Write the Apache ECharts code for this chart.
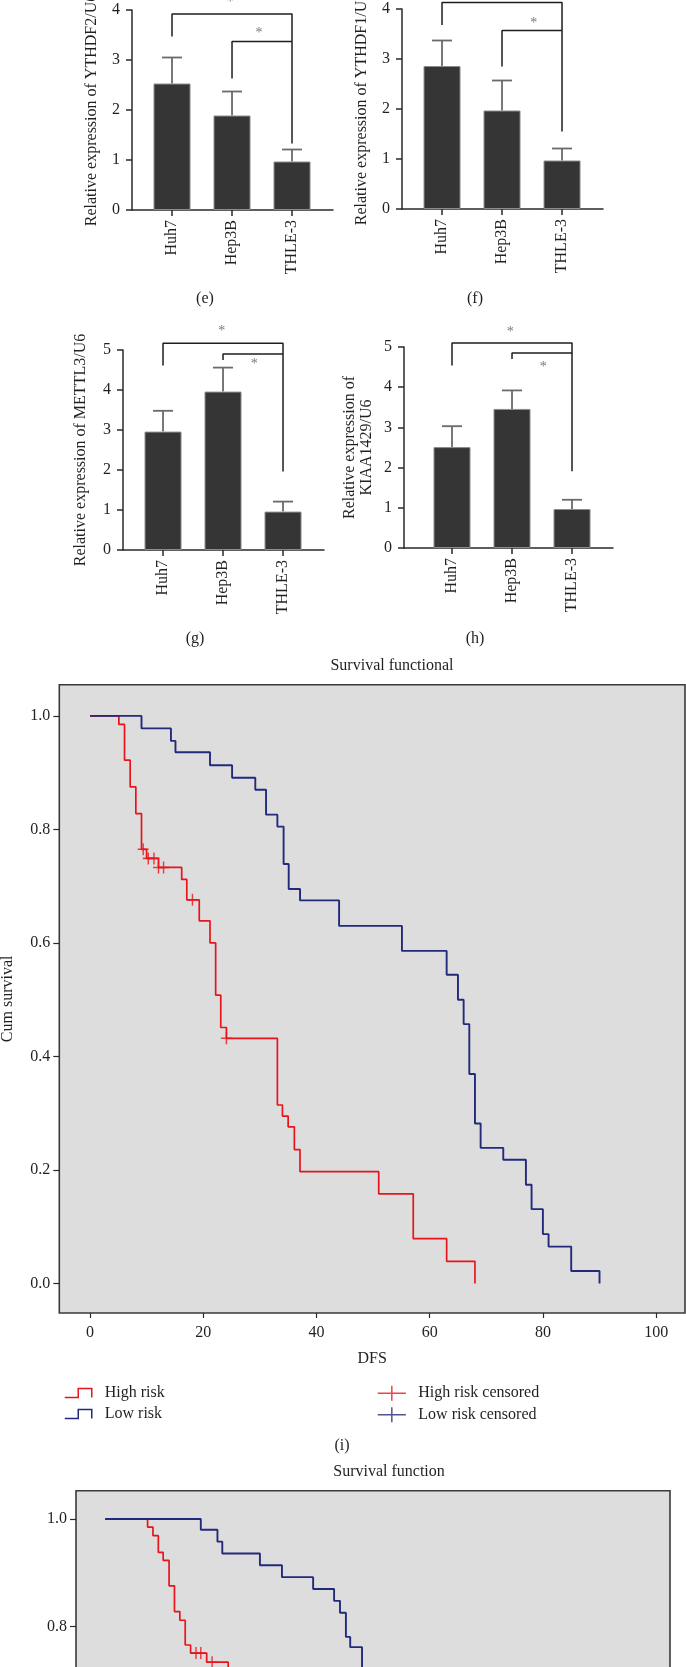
<!DOCTYPE html>
<html><head><meta charset="utf-8">
<script src="https://cdn.jsdelivr.net/npm/echarts@6/dist/echarts.min.js"></script>
<style>html,body{margin:0;padding:0;background:#fff}#c{width:686px;height:1667px}</style>
</head><body><div id="c"></div>
<script>
// ---------- data ----------
const categories = ['Huh7', 'Hep3B', 'THLE-3'];

const meanE = [2.53, 1.89, 0.97];
const errE  = [3.05, 2.37, 1.21];
const meanF = [2.86, 1.97, 0.97];
const errF  = [3.37, 2.57, 1.21];
const meanG = [2.96, 3.96, 0.96];
const errG  = [3.48, 4.56, 1.21];
const meanH = [2.51, 3.46, 0.97];
const errH  = [3.03, 3.92, 1.20];

const bracketOuterE = [[0, 3.47], [0, 3.92], [2, 3.92], [2, 1.33]];
const bracketInnerE = [[1, 2.63], [1, 3.37], [2, 3.37]];
const starsE = [[0.97, 4.16], [1.45, 3.54]];
const bracketOuterF = [[0, 3.68], [0, 4.13], [2, 4.13], [2, 1.55]];
const bracketInnerF = [[1, 2.85], [1, 3.57], [2, 3.57]];
const starsF = [[1.0, 4.4], [1.53, 3.72]];
const bracketOuterG = [[0, 4.61], [0, 5.17], [2, 5.17], [2, 1.96]];
const bracketInnerG = [[1, 4.75], [1, 4.9], [2, 4.9]];
const starsG = [[0.98, 5.47], [1.52, 4.65]];
const bracketOuterH = [[0, 4.54], [0, 5.1], [2, 5.1], [2, 1.91]];
const bracketInnerH = [[1, 4.7], [1, 4.85], [2, 4.85]];
const starsH = [[0.97, 5.37], [1.52, 4.5]];

const yNames = ['Relative expression of YTHDF2/U6', 'Relative expression of YTHDF1/U6',
                'Relative expression of METTL3/U6', 'Relative expression of\nKIAA1429/U6'];
const panelLabels = ['(e)', '(f)', '(g)', '(h)', '(i)'];

// survival plot (i): [time, cumulative survival]
const highRisk1 = [[0,1],[5.1,0.985],[6.1,0.922],[7.1,0.875],[8.1,0.828],[9.1,0.765],[10.0,0.749],[12.1,0.733],
  [16.2,0.712],[17.1,0.676],[19.3,0.639],[21.2,0.60],[22.2,0.508],[23.1,0.451],[24.1,0.432],[33.1,0.3145],
  [34.0,0.295],[35.0,0.276],[36.1,0.236],[37.1,0.197],[51.0,0.158],[57.1,0.079],[63.0,0.039],[68.0,0]];
const lowRisk1 = [[0,1],[9.1,0.978],[14.3,0.956],[15.1,0.936],[21.2,0.913],[25.1,0.891],[29.2,0.87],[31.1,0.826],
  [33.1,0.805],[34.2,0.739],[35.1,0.695],[37.1,0.675],[44.0,0.63],[55.1,0.586],[63.0,0.544],[65.0,0.5],
  [66.0,0.457],[67.0,0.369],[68.0,0.282],[69.0,0.239],[73.0,0.218],[77.0,0.174],[78.0,0.131],[80.0,0.087],
  [81.0,0.065],[85.0,0.022],[90.0,0]];
const highCens1 = [[9.4,0.765],[10.3,0.749],[11.3,0.749],[12.1,0.733],[13.0,0.733],[18.1,0.676],[24.1,0.432]];
const lowCens1 = [];

// second survival plot (partially visible)
const highRisk2 = [[0,1],[7.9,0.985],[8.9,0.969],[9.9,0.938],[10.8,0.923],[11.9,0.876],[12.9,0.828],[13.9,0.812],
  [14.9,0.766],[15.9,0.751],[18.9,0.734],[22.9,0.70]];
const lowRisk2 = [[0,1],[17.8,0.98],[20.9,0.958],[21.8,0.936],[28.8,0.914],[32.9,0.892],[38.7,0.87],[42.6,0.848],
  [43.7,0.826],[44.8,0.781],[45.6,0.762],[47.8,0.70]];
const highCens2 = [[16.9,0.751],[17.8,0.751],[19.9,0.734]];

const xTicksSurv = [0, 20, 40, 60, 80, 100];
const yTicksSurv = [0, 0.2, 0.4, 0.6, 0.8, 1.0];
const seriesNames = ['High risk', 'Low risk', 'High risk censored', 'Low risk censored'];

// ---------- styling ----------
const FONT = 'Liberation Serif';
const TXT = '#231f20';
const RED = '#e8141c';
const BLUE = '#222a7c';
const AX = '#2a2a2a';

const chart = echarts.init(document.getElementById('c'), null, {renderer: 'canvas', width: 686, height: 1667});

const grids = [], xAxes = [], yAxes = [], series = [];

const barPanels = [
  {grid: {left: 132, top: 10, width: 201, height: 200}, xMin: -0.667, yMax: 4, mean: meanE, err: errE, bo: bracketOuterE, bi: bracketInnerE, st: starsE, gap: 32},
  {grid: {left: 402, top: 9, width: 201, height: 200}, xMin: -0.667, yMax: 4, mean: meanF, err: errF, bo: bracketOuterF, bi: bracketInnerF, st: starsF, gap: 32},
  {grid: {left: 123, top: 350, width: 201, height: 200}, xMin: -0.667, yMax: 5, mean: meanG, err: errG, bo: bracketOuterG, bi: bracketInnerG, st: starsG, gap: 34},
  {grid: {left: 404, top: 347, width: 209, height: 201}, xMin: -0.8, yMax: 5, mean: meanH, err: errH, bo: bracketOuterH, bi: bracketInnerH, st: starsH, gap: 29}
];

const gridBase = {containLabel: false, outerBoundsMode: 'none'};

barPanels.forEach((p, i) => {
  grids.push(Object.assign({}, gridBase, p.grid));
  xAxes.push({
    type: 'value', gridIndex: i, min: p.xMin, max: 2.683,
    axisLine: {show: true, onZero: false, lineStyle: {color: AX, width: 1.5}},
    axisTick: {show: true, length: 6, customValues: [0, 1, 2], lineStyle: {color: AX, width: 1.5}},
    axisLabel: {customValues: [0, 1, 2], rotate: 90, margin: 10, formatter: v => categories[Math.round(v)],
      fontFamily: FONT, fontSize: 16, color: TXT},
    splitLine: {show: false}
  });
  yAxes.push({
    type: 'value', gridIndex: i, min: 0, max: p.yMax, interval: 1,
    axisLine: {show: true, onZero: false, lineStyle: {color: AX, width: 1.5}},
    axisTick: {show: true, length: 6, lineStyle: {color: AX, width: 1.5}},
    axisLabel: {margin: 12, fontFamily: FONT, fontSize: 16, color: TXT},
    splitLine: {show: false},
    name: yNames[i], nameLocation: 'middle', nameGap: p.gap,
    nameTextStyle: {fontFamily: FONT, fontSize: 16, color: TXT, lineHeight: 17}
  });
  series.push({
    type: 'bar', xAxisIndex: i, yAxisIndex: i, barWidth: 37,
    data: p.mean.map((v, k) => [k, v]),
    itemStyle: {color: '#353535', borderColor: '#8c8c8c', borderWidth: 1}, z: 3
  });
  series.push({
    type: 'custom', xAxisIndex: i, yAxisIndex: i, z: 2,
    data: p.mean.map((v, k) => [k, v, p.err[k]]),
    renderItem: (params, api) => {
      const a = api.coord([api.value(0), api.value(1)]);
      const b = api.coord([api.value(0), api.value(2)]);
      const st = {stroke: '#6a6a6a', lineWidth: 1.8};
      return {type: 'group', children: [
        {type: 'line', shape: {x1: a[0], y1: a[1], x2: b[0], y2: b[1]}, style: st},
        {type: 'line', shape: {x1: b[0] - 10, y1: b[1], x2: b[0] + 10, y2: b[1]}, style: st}
      ]};
    }
  });
  [p.bo, p.bi].forEach(br => series.push({
    type: 'line', xAxisIndex: i, yAxisIndex: i, data: br, symbol: 'none', clip: false,
    lineStyle: {color: '#1e1e1e', width: 1.5}, z: 4
  }));
  series.push({
    type: 'scatter', xAxisIndex: i, yAxisIndex: i, data: p.st, symbolSize: 1, clip: false,
    itemStyle: {color: 'rgba(0,0,0,0)'},
    label: {show: true, position: 'inside', formatter: '*', fontFamily: FONT, fontSize: 14, color: '#555'}
  });
});

const stepIcon = 'path://M0,10 L15,10 L15,0 L30,0 L30,10';
const plusIcon = 'path://M0,8 L30,8 M15,0 L15,16';
const censorSym = 'path://M0,6 L12,6 M6,0 L6,12';

const survPlots = [
  {grid: {left: 59.3, top: 684.7, width: 625.7, height: 628.3}, yMin: -0.052, yMax: 1.055,
   hi: highRisk1, lo: lowRisk1, hc: highCens1, lc: lowCens1},
  {grid: {left: 76, top: 1490.7, width: 594, height: 595}, yMin: -0.0526, yMax: 1.0526,
   hi: highRisk2, lo: lowRisk2, hc: highCens2, lc: []}
];

survPlots.forEach((p, j) => {
  const i = 4 + j;
  grids.push(Object.assign({}, gridBase, {show: true, backgroundColor: '#dddddd', borderColor: '#3a3a3a', borderWidth: 1.6}, p.grid));
  xAxes.push({
    type: 'value', gridIndex: i, min: -5.42, max: 105.1,
    axisLine: {show: false, onZero: false},
    axisTick: {show: true, length: 5, customValues: xTicksSurv, lineStyle: {color: AX, width: 1.2}},
    axisLabel: {customValues: xTicksSurv, margin: 12, fontFamily: FONT, fontSize: 16, color: TXT},
    splitLine: {show: false},
    name: 'DFS', nameLocation: 'middle', nameGap: 38,
    nameTextStyle: {fontFamily: FONT, fontSize: 16, color: TXT}
  });
  yAxes.push({
    type: 'value', gridIndex: i, min: p.yMin, max: p.yMax,
    axisLine: {show: false, onZero: false},
    axisTick: {show: true, length: 6, customValues: yTicksSurv, lineStyle: {color: AX, width: 1.2}},
    axisLabel: {customValues: yTicksSurv, margin: 9, formatter: v => v.toFixed(1), fontFamily: FONT, fontSize: 16, color: TXT},
    splitLine: {show: false},
    name: 'Cum survival', nameLocation: 'middle', nameGap: 44,
    nameTextStyle: {fontFamily: FONT, fontSize: 16, color: TXT}
  });
  series.push({name: seriesNames[0], type: 'line', step: 'end', xAxisIndex: i, yAxisIndex: i, data: p.hi,
    symbol: 'none', lineStyle: {color: RED, width: 1.7}, itemStyle: {color: RED}, z: 3});
  series.push({name: seriesNames[1], type: 'line', step: 'end', xAxisIndex: i, yAxisIndex: i, data: p.lo,
    symbol: 'none', lineStyle: {color: BLUE, width: 1.9}, itemStyle: {color: BLUE}, z: 3});
  series.push({name: seriesNames[2], type: 'scatter', xAxisIndex: i, yAxisIndex: i, data: p.hc,
    symbol: censorSym, symbolSize: [11, 12], itemStyle: {color: 'rgba(0,0,0,0)', borderColor: RED, borderWidth: 1.5}, z: 4});
  series.push({name: seriesNames[3], type: 'scatter', xAxisIndex: i, yAxisIndex: i, data: p.lc,
    symbol: censorSym, symbolSize: [11, 12], itemStyle: {color: 'rgba(0,0,0,0)', borderColor: BLUE, borderWidth: 1.5}, z: 4});
});

const titleStyle = {fontFamily: FONT, fontSize: 16, fontWeight: 'normal', color: TXT};
const titles = [
  {text: panelLabels[0], left: 205, top: 291},
  {text: panelLabels[1], left: 475, top: 291},
  {text: panelLabels[2], left: 195, top: 631},
  {text: panelLabels[3], left: 475, top: 631},
  {text: 'Survival functional', left: 392, top: 658},
  {text: panelLabels[4], left: 342, top: 1438},
  {text: 'Survival function', left: 389, top: 1464}
].map(t => Object.assign({textAlign: 'center', padding: 0, textStyle: titleStyle}, t));

const legendText = {fontFamily: FONT, fontSize: 16, color: TXT, padding: [0, 0, 0, 6]};
const legends = [
  {left: 59, top: 1380, orient: 'vertical', itemGap: 5, itemWidth: 31, itemHeight: 9, selectedMode: false,
   textStyle: legendText,
   data: [
     {name: seriesNames[0], icon: stepIcon, itemStyle: {color: 'rgba(0,0,0,0)', borderColor: RED, borderWidth: 1.5}},
     {name: seriesNames[1], icon: stepIcon, itemStyle: {color: 'rgba(0,0,0,0)', borderColor: BLUE, borderWidth: 1.5}}
   ]},
  {left: 372, top: 1380, orient: 'vertical', itemGap: 5, itemWidth: 31, itemHeight: 15, selectedMode: false,
   textStyle: legendText,
   data: [
     {name: seriesNames[2], icon: plusIcon, itemStyle: {color: 'rgba(0,0,0,0)', borderColor: RED, borderWidth: 1.5}},
     {name: seriesNames[3], icon: plusIcon, itemStyle: {color: 'rgba(0,0,0,0)', borderColor: BLUE, borderWidth: 1.5}}
   ]}
];

chart.setOption({
  backgroundColor: '#ffffff',
  animation: false,
  title: titles,
  legend: legends,
  grid: grids,
  xAxis: xAxes,
  yAxis: yAxes,
  series: series
});
</script>
</body></html>
